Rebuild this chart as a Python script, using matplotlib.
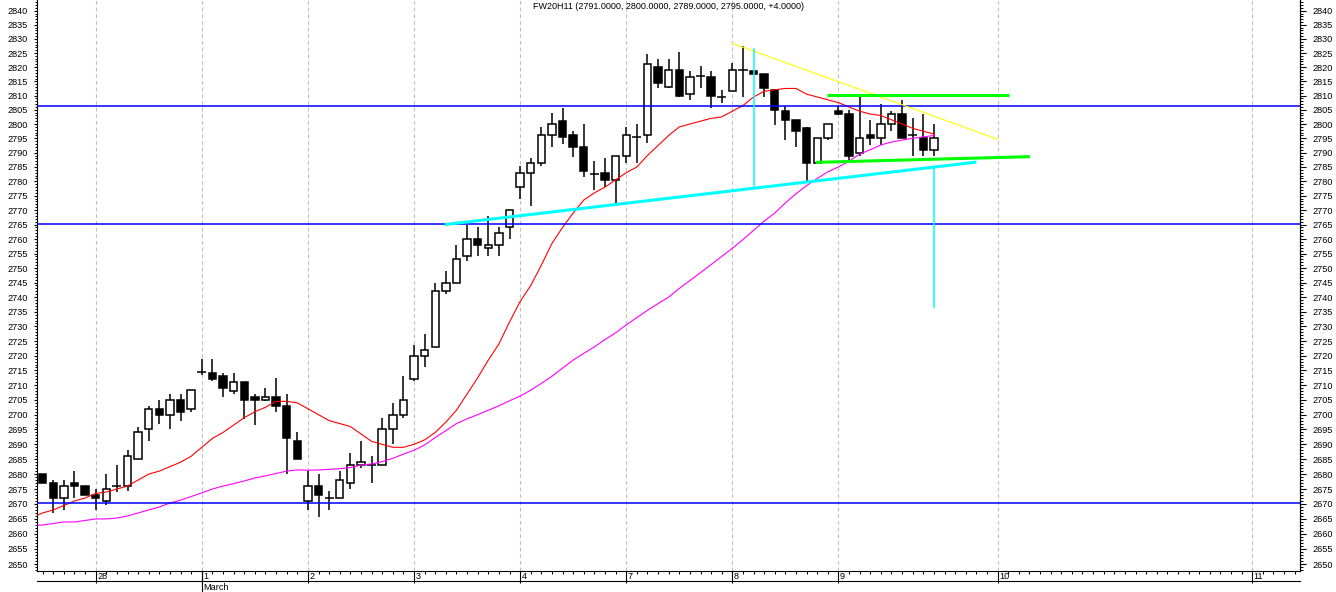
import numpy as np
import matplotlib
matplotlib.use("Agg")
import matplotlib.pyplot as plt
from matplotlib.lines import Line2D
from matplotlib import transforms
from matplotlib.ticker import FixedLocator, FixedFormatter, NullFormatter

plt.rcParams['font.family'] = ['Liberation Sans', 'DejaVu Sans']

# ---------------- data ----------------
title = "FW20H11 (2791.0000, 2800.0000, 2789.0000, 2795.0000, +4.0000)"

opens = np.array([
    2680, 2677, 2672, 2677, 2676, 2673, 2671, 2676, 2676, 2685,
    2695, 2702, 2700, 2705, 2702, 2714.5, 2714, 2713, 2708, 2711,
    2706, 2705, 2706, 2703, 2691, 2671, 2676, 2672, 2672, 2677,
    2683, 2683, 2683, 2695, 2700, 2712, 2720, 2723, 2742, 2745,
    2754, 2760, 2757, 2758, 2764, 2778, 2783, 2786.5, 2796, 2801,
    2796, 2792, 2782.5, 2783, 2780.5, 2789, 2795.5, 2796, 2820, 2813,
    2819, 2810.5, 2817, 2816.5, 2809.5, 2811.5, 2819, 2818.5, 2817.5, 2812,
    2804.5, 2801.5, 2798.5, 2786.5, 2795, 2804.5, 2803.5, 2790, 2796, 2795,
    2800, 2803.5, 2796, 2795, 2791])
highs = np.array([
    2680, 2678, 2678, 2681, 2676, 2675, 2680, 2683, 2688, 2696,
    2703, 2705, 2707, 2707, 2708.5, 2719, 2719, 2714, 2714, 2711,
    2707, 2709, 2712.5, 2707, 2694, 2681, 2680, 2674.5, 2681, 2687,
    2691, 2686, 2699, 2704, 2713, 2723.5, 2727.5, 2745, 2749, 2758,
    2765, 2764, 2768, 2764, 2770, 2785.5, 2788, 2799, 2804, 2805.5,
    2797.5, 2800, 2787, 2788, 2789, 2799, 2800, 2824.5, 2823, 2823,
    2825.5, 2818.5, 2820.5, 2818.5, 2812, 2821.5, 2827.5, 2818.5, 2817.5, 2812,
    2806.5, 2801.5, 2799, 2795, 2800, 2806.5, 2805, 2810.5, 2801.5, 2807,
    2804.5, 2808.5, 2802, 2803.5, 2800])
lows = np.array([
    2677, 2667, 2668, 2672, 2673, 2668, 2669.5, 2674, 2674.5, 2685,
    2691, 2697, 2695, 2698, 2701, 2713.5, 2711.5, 2706, 2707, 2698.5,
    2696.5, 2704.5, 2701, 2680, 2685, 2668, 2665.5, 2668, 2672, 2675,
    2682, 2677, 2683, 2690, 2699, 2711.5, 2716, 2723, 2741, 2745,
    2752.5, 2754, 2754, 2754, 2760, 2774, 2771.5, 2785.5, 2792, 2793,
    2788.5, 2781.5, 2777, 2778, 2771.5, 2786.5, 2786.5, 2793.5, 2812.5, 2812.5,
    2809.5, 2808.5, 2812.5, 2805.5, 2807.5, 2811.5, 2809.5, 2817.5, 2809.5, 2799.5,
    2794.5, 2792, 2780, 2786.5, 2794.5, 2803, 2787.5, 2789, 2792.5, 2792.5,
    2797.5, 2795, 2789, 2789, 2789])
closes = np.array([
    2677, 2672, 2676, 2676, 2673, 2672, 2675, 2676, 2686, 2694,
    2702, 2700, 2705, 2701, 2708.5, 2714.5, 2712, 2709, 2711, 2705,
    2705, 2706, 2703, 2692, 2685, 2676, 2673, 2672, 2678, 2683,
    2684, 2683, 2695, 2700, 2705, 2720, 2722, 2742, 2745, 2753,
    2760, 2758, 2758, 2762, 2770, 2783, 2786.5, 2796, 2800, 2795.5,
    2792, 2783.5, 2782.5, 2780.5, 2789, 2796, 2795.5, 2821, 2814.5, 2819,
    2810, 2816.5, 2817, 2810, 2809.5, 2819, 2819, 2817.5, 2812.5, 2805,
    2801.5, 2797.5, 2786.5, 2795, 2800, 2803.5, 2789, 2795, 2795, 2800,
    2803.5, 2795, 2796, 2791, 2795])

# moving averages (bar -1 .. 84)
ma_red = [
    2665.5, 2667, 2668, 2669.5, 2671, 2672, 2673.5, 2674, 2675, 2676, 2678,
    2680, 2681, 2682.5, 2684, 2686, 2689, 2692, 2694, 2696.5, 2699,
    2701, 2702.5, 2704.5, 2704.5, 2704, 2702, 2700, 2698, 2697, 2696,
    2693.5, 2691, 2690, 2689, 2689, 2690, 2691.5, 2694, 2697.5, 2701.5,
    2707, 2712.5, 2718.5, 2724, 2731.5, 2738.5, 2744, 2751, 2758.5, 2764,
    2769, 2773.5, 2776, 2778, 2780.5, 2783, 2785, 2789, 2792.5, 2796,
    2799, 2800, 2801, 2802, 2802.5, 2804.5, 2806.5, 2809.5, 2811.5, 2812,
    2812.5, 2812.5, 2810.5, 2809.5, 2808.5, 2807.5, 2806, 2804.5, 2803.5, 2803,
    2801.5, 2800, 2798.5, 2797.5, 2796.5]
ma_magenta = [
    2662.8, 2663, 2663.5, 2664, 2664, 2664.5, 2665, 2665, 2665.3, 2666, 2667,
    2668, 2669, 2670.3, 2671.3, 2672.5, 2673.7, 2675, 2676, 2676.8, 2677.7,
    2678.7, 2679.4, 2680.2, 2681, 2681.4, 2681.3, 2681.4, 2681.6, 2681.8, 2682.2,
    2683, 2683.4, 2684.2, 2685.3, 2686.7, 2688, 2689.8, 2692.3, 2694.6, 2697,
    2698.6, 2700, 2701.5, 2703, 2704.7, 2706.3, 2708.3, 2710.6, 2713, 2715.8,
    2718.5, 2720.8, 2723, 2725.5, 2727.8, 2730.5, 2733, 2735.5, 2737.8, 2740,
    2743, 2745.7, 2748.4, 2751.2, 2754, 2756.8, 2759.8, 2763, 2766.2, 2769,
    2772.5, 2775.7, 2778.5, 2781, 2783.3, 2785, 2787, 2789.5, 2791, 2792.7,
    2793.7, 2794.4, 2795, 2795.5, 2796]

# horizontal support/resistance levels
blue_levels = [2806.2, 2765.1, 2670.4]

# drawn trend lines: (bar index, price) endpoints
cyan_trend_x = [37.9, 88.0]
cyan_trend_y = [2765.0, 2786.7]
yellow_x = [65.0, 90.0]
yellow_y = [2828.4, 2794.7]
green_top_x = [73.95, 91.04]
green_top_y = [2810.2, 2810.2]
green_bot_x = [72.88, 93.05]
green_bot_y = [2786.6, 2788.6]
cyan_vert1_x = 67
cyan_vert1_y = [2777.6, 2826.3]
cyan_vert2_x = 84
cyan_vert2_y = [2736.7, 2784.7]

# x axis (bar index of each day's first bar)
day_idx = [5, 15, 25, 35, 45, 55, 65, 75, 90, 114]
day_labels = ["28", "1", "2", "3", "4", "7", "8", "9", "10", "11"]
month_idx = 15
month_label = "March"

y_major = list(range(2650, 2841, 5))

# ---------------- figure ----------------
W, H = 1336, 592
fig = plt.figure(figsize=(W / 100, H / 100), dpi=100)
L, R, T, B = 36.7, 1300.0, 0.0, 571.0
ax = fig.add_axes([L / W, 1 - B / H, (R - L) / W, (B - T) / H])
ax.set_yscale('log')
YLIM = (2647.7, 2843.8)
XLIM = (-0.56, 118.5)
ax.set_ylim(*YLIM)
ax.set_xlim(*XLIM)

# grid (day separators)
for d in day_idx:
    ax.axvline(d, color='#c0c0c0', lw=0.8, ls=(0, (3.5, 2.5)), zorder=1)

# candles
x = np.arange(len(opens))
up = closes > opens
down = closes < opens
doji = closes == opens
bw = 0.7
ax.vlines(x, lows, highs, color='black', lw=1.1, zorder=3)
ax.bar(x[up], closes[up] - opens[up], bottom=opens[up], width=bw,
       facecolor='white', edgecolor='black', lw=1.1, zorder=4)
ax.bar(x[down], opens[down] - closes[down], bottom=closes[down], width=bw,
       facecolor='black', edgecolor='black', lw=1.1, zorder=4)
ax.hlines(opens[doji], x[doji] - bw / 2 - 0.08, x[doji] + bw / 2 + 0.08,
          color='black', lw=1.1, zorder=4)

# moving averages
xm = np.arange(-1, len(ma_red) - 1)
ax.plot(xm, ma_red, color='#ff0000', lw=0.8, zorder=5)
ax.plot(xm, ma_magenta, color='#ff00ff', lw=0.8, zorder=5)

# horizontal levels
for lv in blue_levels:
    ax.axhline(lv, color='#0000ff', lw=1.1, zorder=5)

# drawn lines
ax.plot(yellow_x, yellow_y, color='#ffff00', lw=0.8, zorder=6)
ax.plot(cyan_trend_x, cyan_trend_y, color='#00ffff', lw=2.2, zorder=6,
        solid_capstyle='butt')
ax.plot([cyan_vert1_x] * 2, cyan_vert1_y, color='#00ffff', lw=1.1, zorder=6)
ax.plot([cyan_vert2_x] * 2, cyan_vert2_y, color='#00ffff', lw=1.1, zorder=6)
ax.plot(green_top_x, green_top_y, color='#00ff00', lw=2.2, zorder=7,
        solid_capstyle='butt')
ax.plot(green_bot_x, green_bot_y, color='#00ff00', lw=2.2, zorder=7,
        solid_capstyle='butt')

# ---------------- axes styling ----------------
for s in ['top']:
    ax.spines[s].set_visible(False)
for s in ['left', 'right', 'bottom']:
    ax.spines[s].set_linewidth(0.8)
    ax.spines[s].set_color('black')

def style_y(a, side, maj_len, min_len, pad):
    a.yaxis.set_major_locator(FixedLocator(y_major))
    a.yaxis.set_major_formatter(FixedFormatter([str(v) for v in y_major]))
    a.yaxis.set_minor_locator(FixedLocator(list(range(2648, 2844))))
    a.yaxis.set_minor_formatter(NullFormatter())
    kw = dict(left=(side == 'left'), right=(side == 'right'),
              labelleft=(side == 'left'), labelright=(side == 'right'))
    a.tick_params(axis='y', which='major', direction='out', length=maj_len,
                  width=0.8, labelsize=6.6, pad=pad, colors='black', **kw)
    a.tick_params(axis='y', which='minor', direction='out', length=min_len,
                  width=0.7, **kw)

style_y(ax, 'left', 2.5, 1.5, 4.0)

ax2 = ax.twinx()
ax2.set_yscale('log')
ax2.set_ylim(*YLIM)
ax2.set_xlim(*XLIM)
for s in ['top', 'left', 'bottom']:
    ax2.spines[s].set_visible(False)
ax2.spines['right'].set_linewidth(0.8)
style_y(ax2, 'right', 4.3, 2.2, 5.0)

# x ticks
ax.set_xticks(day_idx)
ax.set_xticks(list(range(0, 119)), minor=True)
ax.tick_params(axis='x', which='major', direction='out', length=8.6, width=0.8,
               labelbottom=False)
ax.tick_params(axis='x', which='minor', direction='out', length=2.2, width=0.7,
               labelbottom=False)

# day labels
btrans = transforms.blended_transform_factory(ax.transData, ax.transAxes)
lab_trans = transforms.offset_copy(btrans, fig=fig, x=1.5, y=-5.5, units='dots')
for d, lab in zip(day_idx, day_labels):
    ax.text(d, 0, lab, transform=lab_trans, ha='left', va='center',
            fontsize=6.6, color='black', clip_on=False)

# second baseline under day labels
fig.add_artist(Line2D([L / W, R / W], [1 - 581 / H] * 2,
                      transform=fig.transFigure, color='black', lw=0.8))
# month separator tick and label
mtrans = transforms.blended_transform_factory(ax.transData, fig.transFigure)
fig.add_artist(Line2D([month_idx, month_idx], [1 - 571 / H, 0.0],
                      transform=mtrans, color='black', lw=0.8))
mlab_trans = transforms.offset_copy(mtrans, fig=fig, x=1.5, y=0, units='dots')
fig.text(month_idx, 1 - 587 / H, month_label, transform=mlab_trans,
         ha='left', va='center', fontsize=6.6, color='black')

# title
fig.text(668.9 / W, 1 - 6.7 / H, title, ha='center', va='center',
         fontsize=6.5, color='black')

fig.savefig('out.png', dpi=100)
